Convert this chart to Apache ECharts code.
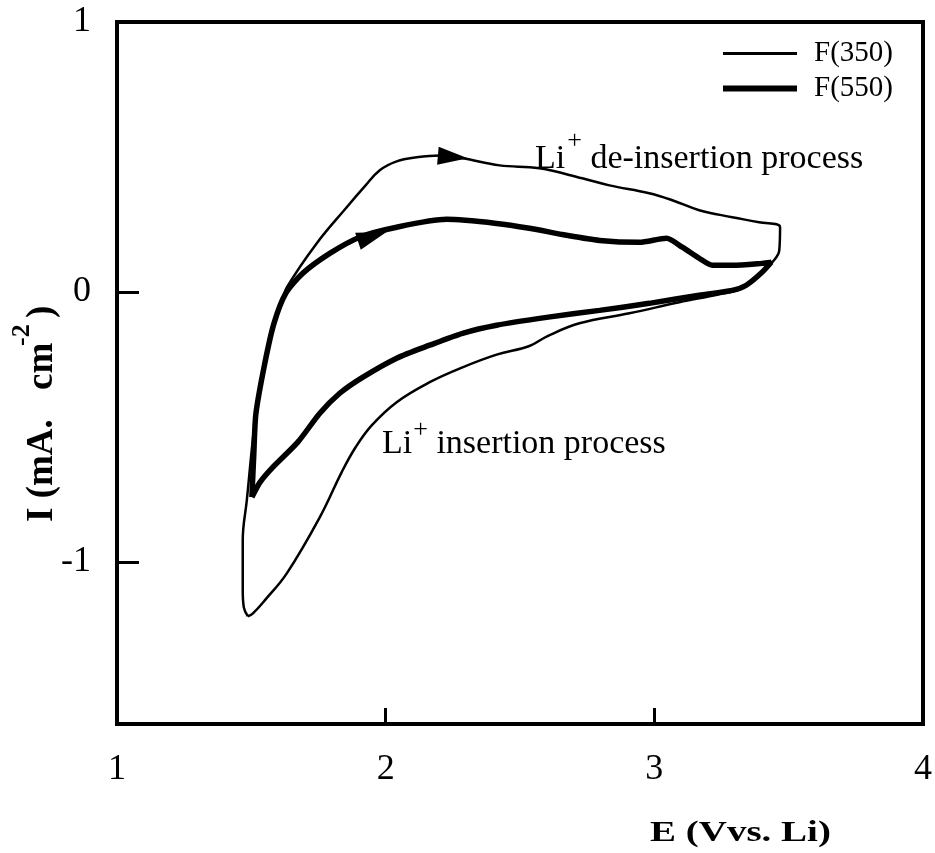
<!DOCTYPE html>
<html>
<head>
<meta charset="utf-8">
<script src="https://cdn.jsdelivr.net/npm/echarts@6/dist/echarts.min.js"></script>
<style>
  html, body { margin: 0; padding: 0; background: #fff; }
  #chart { width: 935px; height: 853px; }
</style>
</head>
<body>
<div id="chart"></div>
<script>
// Axis tick values
const xTickValues = [1, 2, 3, 4];
const yTickValues = [-1, 0, 1];

// Cyclic voltammogram of F(350): potential (V vs. Li) and current (mA cm-2), one closed loop
const f350E = [1.487, 1.472, 1.468, 1.468, 1.483, 1.517, 1.550, 1.584, 1.617, 1.632,
  1.743, 1.855, 1.922, 1.978, 2.041, 2.115, 2.201, 2.286, 2.424, 2.572, 2.732,
  2.833, 2.981, 3.067, 3.167, 3.290, 3.390, 3.468, 3.465, 3.439, 3.401,
  3.327, 3.242, 3.093, 2.907, 2.721, 2.599, 2.535, 2.413, 2.286, 2.164,
  2.041, 1.948, 1.888, 1.836, 1.755, 1.632, 1.550, 1.506, 1.487];
const f350I = [-1.201, -1.168, -1.105, -0.920, -0.773, -0.451, -0.265, -0.117, -0.031, 0.017,
  0.180, 0.314, 0.391, 0.451, 0.484, 0.499, 0.506, 0.495, 0.469, 0.458, 0.421,
  0.395, 0.366, 0.340, 0.303, 0.277, 0.258, 0.240, 0.154, 0.110, 0.073,
  0.014, -0.008, -0.038, -0.079, -0.116, -0.165, -0.200, -0.232, -0.279, -0.334,
  -0.408, -0.494, -0.575, -0.668, -0.834, -1.042, -1.142, -1.190, -1.201];

// Cyclic voltammogram of F(550)
const f550E = [1.502, 1.509, 1.517, 1.550, 1.584, 1.628, 1.691, 1.792, 1.903, 2.041,
  2.227, 2.413, 2.535, 2.673, 2.796, 2.944, 3.045, 3.104, 3.167, 3.216,
  3.290, 3.401, 3.435, 3.401, 3.342, 3.290, 3.167, 2.981, 2.796, 2.599,
  2.413, 2.286, 2.164, 2.041, 1.914, 1.829, 1.755, 1.673, 1.576, 1.532, 1.502];
const f550I = [-0.760, -0.605, -0.451, -0.265, -0.117, -0.005, 0.069, 0.143, 0.203, 0.240,
  0.269, 0.254, 0.236, 0.210, 0.191, 0.184, 0.199, 0.166, 0.125, 0.099,
  0.099, 0.106, 0.110, 0.073, 0.025, 0.006, -0.012, -0.042, -0.068, -0.094,
  -0.123, -0.153, -0.197, -0.245, -0.316, -0.375, -0.449, -0.556, -0.653, -0.705, -0.760];

// Sweep-direction arrows sitting on the anodic branches
const arrow350 = [2.25, 0.500];
const arrow550 = [1.95, 0.205];

const zip = (xs, ys) => xs.map((x, i) => [x, ys[i]]);

const SERIF = '"Liberation Serif", "Times New Roman", serif';
const measureCtx = document.createElement('canvas').getContext('2d');
function textWidth(text, font) {
  measureCtx.font = font;
  return measureCtx.measureText(text).width;
}

// A run of text pieces laid out left to right; pieces may be raised as superscripts
function textRun(x, baseline, pieces) {
  const out = [];
  let cx = x;
  pieces.forEach(p => {
    const font = (p.bold ? 'bold ' : '') + p.size + 'px ' + SERIF;
    cx += p.gap || 0;
    out.push({
      type: 'text',
      x: cx,
      y: baseline - (p.raise || 0) - p.size * 0.33,
      style: { text: p.text, font: font, fill: '#000', align: 'left', verticalAlign: 'middle' }
    });
    cx += textWidth(p.text, font);
  });
  return out;
}

const chart = echarts.init(document.getElementById('chart'), null, { renderer: 'canvas' });

const option = {
  backgroundColor: '#fff',
  animation: false,
  grid: {
    left: 117, right: 10, top: 22, bottom: 129,
    show: true, borderColor: '#000', borderWidth: 4, backgroundColor: 'transparent'
  },
  xAxis: {
    type: 'value', min: 1, max: 4, interval: 1,
    axisLine: { show: false, onZero: false },
    splitLine: { show: false },
    axisTick: { show: true, inside: true, length: 16, lineStyle: { color: '#000', width: 3 },
      customValues: xTickValues },
    axisLabel: { color: '#000', fontSize: 36, fontFamily: SERIF, margin: 28,
      customValues: xTickValues }
  },
  yAxis: {
    type: 'value', min: -1.6, max: 1,
    axisLine: { show: false, onZero: false },
    splitLine: { show: false },
    axisTick: { show: true, inside: true, length: 22, lineStyle: { color: '#000', width: 3 },
      customValues: yTickValues },
    axisLabel: { color: '#000', fontSize: 36, fontFamily: SERIF, margin: 26,
      padding: [8, 0, 0, 0], customValues: yTickValues }
  },
  legend: {
    data: [
      { name: 'F(350)', itemStyle: { opacity: 0 }, lineStyle: { width: 3, color: '#000' } },
      { name: 'F(550)', itemStyle: { opacity: 0 }, lineStyle: { width: 6, color: '#000' } }
    ],
    orient: 'vertical',
    left: 715, top: 34,
    itemWidth: 74, itemHeight: 20, itemGap: 6,
    selectedMode: false,
    textStyle: { color: '#000', fontSize: 29, fontFamily: SERIF, padding: [0, 0, 0, 12] }
  },
  series: [
    {
      name: 'F(350)', type: 'line', data: zip(f350E, f350I),
      symbol: 'none', smooth: 0.4, lineStyle: { color: '#000', width: 2.5 },
      itemStyle: { color: '#000' }, z: 3
    },
    {
      name: 'F(550)', type: 'line', data: zip(f550E, f550I),
      symbol: 'none', smooth: 0.25, lineStyle: { color: '#000', width: 5.5 },
      itemStyle: { color: '#000' }, z: 3
    },
    {
      name: 'arrow350', type: 'scatter', data: [arrow350], silent: true,
      symbol: 'triangle', symbolSize: [18, 30], symbolRotate: -95,
      itemStyle: { color: '#000', opacity: 1 }, z: 4
    },
    {
      name: 'arrow550', type: 'scatter', data: [arrow550], silent: true,
      symbol: 'triangle', symbolSize: [18, 30], symbolRotate: -72,
      itemStyle: { color: '#000', opacity: 1 }, z: 4
    }
  ],
  graphic: [
    // Anodic branch annotation
    ...textRun(535, 170, [
      { text: 'Li', size: 34 },
      { text: '+', size: 26, raise: 20, gap: 2 },
      { text: ' de-insertion process', size: 34 }
    ]),
    // Cathodic branch annotation
    ...textRun(382, 455, [
      { text: 'Li', size: 34 },
      { text: '+', size: 26, raise: 16, gap: 1 },
      { text: ' insertion process', size: 34 }
    ]),
    // x-axis title
    {
      type: 'text', x: 650, y: 833, scaleX: 1.3,
      style: { text: 'E (Vvs. Li)', font: 'bold 30px ' + SERIF, fill: '#000',
        align: 'left', verticalAlign: 'middle' }
    },
    // y-axis title, reading bottom to top
    {
      type: 'group', x: 55, y: 522, rotation: Math.PI / 2,
      children: [
        { type: 'text', x: 0, y: -13,
          style: { text: 'I (mA.', font: 'bold 37px ' + SERIF, fill: '#000', align: 'left', verticalAlign: 'middle' } },
        { type: 'text', x: 132, y: -13,
          style: { text: 'cm', font: 'bold 37px ' + SERIF, fill: '#000', align: 'left', verticalAlign: 'middle' } },
        { type: 'text', x: 176, y: -33,
          style: { text: '-2', font: 'bold 26px ' + SERIF, fill: '#000', align: 'left', verticalAlign: 'middle' } },
        { type: 'text', x: 204, y: -13,
          style: { text: ')', font: 'bold 37px ' + SERIF, fill: '#000', align: 'left', verticalAlign: 'middle' } }
      ]
    }
  ]
};

chart.setOption(option);
</script>
</body>
</html>
